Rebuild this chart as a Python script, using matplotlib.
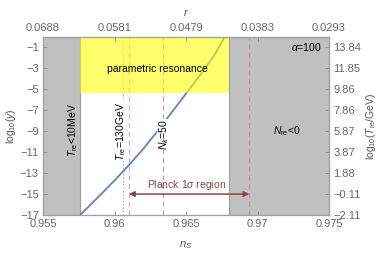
import matplotlib
matplotlib.use("Agg")
import matplotlib.pyplot as plt
import numpy as np

plt.rcParams['font.family'] = ['Liberation Sans', 'DejaVu Sans']
plt.rcParams['mathtext.fontset'] = 'custom'
plt.rcParams['mathtext.rm'] = 'Liberation Sans'
plt.rcParams['mathtext.it'] = 'Liberation Sans:italic'

# data
ns_curve = [0.9576, 0.959, 0.960, 0.961, 0.962, 0.963, 0.964, 0.965, 0.966, 0.967, 0.9677]
logy_curve = [-17.0, -15.1, -13.7, -12.25, -10.7, -9.0, -7.2, -5.4, -3.6, -1.7, 0.0]

x_ticks = [0.955, 0.96, 0.965, 0.97, 0.975]
x_ticklabels = ["0.955", "0.96", "0.965", "0.97", "0.975"]
r_ticklabels = ["0.0688", "0.0581", "0.0479", "0.0383", "0.0293"]
y_ticks = [-1, -3, -5, -7, -9, -11, -13, -15, -17]
T_ticklabels = ["13.84", "11.85", "9.86", "7.86", "5.87", "3.87", "1.88", "\u22120.11", "\u22122.11"]

ns_Tmin = 0.9576      # T_re < 10 MeV boundary
ns_Nre0 = 0.9680      # N_re < 0 boundary
logy_pr = -5.35       # parametric resonance boundary
ns_T130 = 0.96062
ns_planck = (0.96101, 0.96943)
ns_Nk50 = 0.96341

xlim = (0.955, 0.975)
ylim = (-17, 0)

fig = plt.figure(figsize=(3.82, 2.54), dpi=100)
ax = fig.add_axes([43/382, 1-215/254, (329-43)/382, (215-37)/254])
ax.set_xlim(*xlim)
ax.set_ylim(*ylim)

gray = '#c0c0c0'
ax.axvspan(xlim[0], ns_Tmin, color=gray, zorder=1, lw=0)
ax.axvspan(ns_Nre0, xlim[1], color=gray, zorder=1, lw=0)
ax.axvline(ns_Tmin, color='#9a9a9a', lw=0.8, zorder=1.5)
ax.axvline(ns_Nre0, color='#9a9a9a', lw=0.8, zorder=1.5)

# vertical reference lines
ax.axvline(ns_T130, color='#999999', lw=0.8, ls=(0, (1, 2)), zorder=2)
ax.axvline(ns_planck[0], color='#d4b0b0', lw=0.9, ls=(0, (4, 3)), zorder=2)
ax.axvline(ns_planck[1], color='#b89a9a', lw=0.9, ls=(0, (4, 3)), zorder=2)
ax.axvline(ns_Nk50, color='#aaaaaa', lw=0.9, ls=(0, (4, 3)), zorder=2)

ax.plot(ns_curve, logy_curve, color='#5b84c4', lw=1.3, zorder=3, solid_capstyle='butt')

# parametric resonance (translucent yellow over curve)
ax.fill_between([ns_Tmin, ns_Nre0], [logy_pr, logy_pr], [ylim[1], ylim[1]],
                color='#ffff00', alpha=0.58, lw=0, zorder=4)

arrow_c = '#8b4545'
ax.annotate('', xy=(ns_planck[0], -15), xytext=(ns_planck[1], -15),
            arrowprops=dict(arrowstyle='<|-|>', color=arrow_c, lw=1.1,
                            mutation_scale=8, shrinkA=0, shrinkB=0), zorder=5)
ax.text(0.96505, -14.1, 'Planck 1$\\sigma$ region', color=arrow_c, fontsize=7.5,
        ha='center', va='center', zorder=5)

ax.text(0.963, -3.08, 'parametric resonance', fontsize=7.5, ha='center', va='center', zorder=5)
ax.text(0.9745, -1.0, '$\\alpha$=100', fontsize=7.5, ha='right', va='center', zorder=5)
ax.text(0.97206, -9.0, '$N_{\\rm re}$<0', fontsize=7.5, ha='center', va='center', zorder=5)
ax.text(0.95712, -8.85, '$T_{\\rm re}$<10MeV', fontsize=7.5, ha='center', va='center',
        rotation=90, zorder=5)
ax.text(0.96045, -9.0, '$T_{\\rm re}$=130GeV', fontsize=7.5, ha='center', va='center',
        rotation=90, zorder=5,
        bbox=dict(facecolor='white', edgecolor='none', pad=0.3))
ax.text(0.96345, -9.3, '$N_k$=50', fontsize=7.5, ha='center', va='center',
        rotation=90, zorder=5,
        bbox=dict(facecolor='white', edgecolor='none', pad=0.3))

tick_c = '#666666'
spine_c = '#a0a0a0'

ax.set_xticks(x_ticks)
ax.set_xticklabels(x_ticklabels)
ax.set_yticks(y_ticks)
ax.set_yticklabels([str(v).replace('-', '\u2212') for v in y_ticks])
ax.tick_params(direction='in', length=3, width=0.6, color='#888888', labelsize=8,
               labelcolor=tick_c, pad=3)
for s in ax.spines.values():
    s.set_color(spine_c)
    s.set_linewidth(0.8)
ax.set_xlabel('$n_S$', fontsize=8, color='#555555', labelpad=7)
ax.set_ylabel('log$_{10}$($y$)', fontsize=7.5, color='#555555', labelpad=1)

axr = ax.twinx()
axr.set_ylim(*ylim)
axr.set_yticks(y_ticks)
axr.set_yticklabels(T_ticklabels)
axr.tick_params(direction='in', length=3, width=0.6, color='#888888', labelsize=8,
                labelcolor=tick_c, pad=3)
axr.set_ylabel('log$_{10}$($T_{\\rm re}$/GeV)', fontsize=7.5, color='#555555', labelpad=2)

axt = ax.twiny()
axt.set_xlim(*xlim)
axt.set_xticks(x_ticks)
axt.set_xticklabels(r_ticklabels)
axt.tick_params(direction='in', length=3, width=0.6, color='#888888', labelsize=8,
                labelcolor=tick_c, pad=3)
axt.set_xlabel('$r$', fontsize=8, color='#555555', labelpad=5)
for a in (axr, axt):
    for s in a.spines.values():
        s.set_color(spine_c)
        s.set_linewidth(0.8)

fig.savefig('out.png', dpi=100)
